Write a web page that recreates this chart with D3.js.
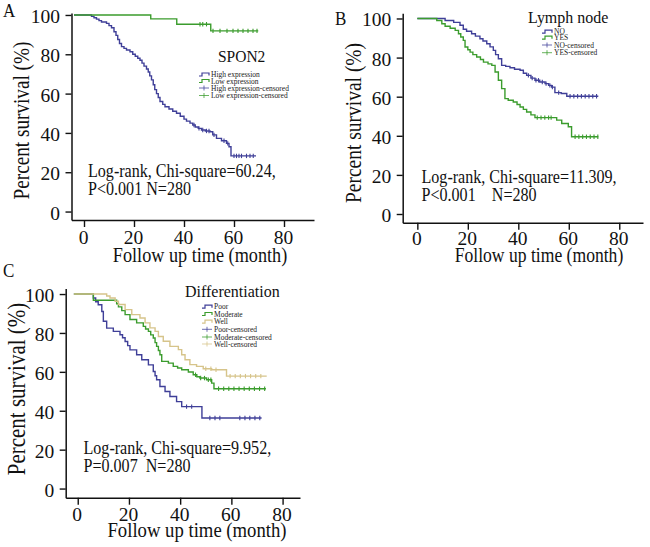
<!DOCTYPE html>
<html><head><meta charset="utf-8">
<script src="https://cdn.jsdelivr.net/npm/d3@7/dist/d3.min.js"></script>
<style>body{margin:0;background:#fff}svg{display:block}</style>
</head><body>
<svg id="chart" width="650" height="547"></svg>
<script>
// ---------- DATA ----------
const xTicks = [0, 20, 40, 60, 80];
const yTicks = [0, 20, 40, 60, 80, 100];

// Panel A: SPON2
const spon2High = [[-4,100],[3,99.3],[4,98.6],[5,97.9],[6,97.1],[7,96.4],[9,95.7],[10,94.6],[11,93.5],[12,91.5],[12.8,89.6],[13.5,87.5],[14.2,85.5],[15,83.9],[16,83],[17,82.2],[18.4,81.3],[19.5,80],[20.5,79],[21.5,78],[22.4,77],[23.2,75.5],[24,74],[25,72.5],[25.7,71],[26.3,69],[27,67],[27.7,64.5],[28.3,62],[29,60],[29.7,58],[30.4,56],[31.5,54.5],[32.4,53.3],[34,52.2],[35.5,51],[37,50],[38.5,48.5],[40,47],[41,46],[42.4,45],[43.5,44],[44.5,43],[45.7,42.3],[47,41.5],[48.5,41],[50.4,40.6],[51.5,39],[53,37.2],[55,36],[57,34.7],[58,33],[58.8,28.3],[68.8,28.3]];
const spon2HighCensor = [44,46,47.5,49,50,52,56,57.5,60,61,62,63,65,66.4,67.7];
const spon2Low = [[-4,100],[26.7,98],[37.1,95.3],[50.7,91.9],[69.7,91.9]];
const spon2LowCensor = [46.4,47.5,49,51.6,54.4,57.2,59.6,61.6,63.6,65.6,67.6,69.2];

// Panel B: Lymph node
const lymphNo = [[0,100],[11,99],[14.4,98],[16.9,96.5],[18.2,94.5],[19.5,93.5],[21.5,92.2],[23,91],[24.8,89.6],[26,88.5],[27.5,87.1],[28.8,85.5],[30.1,83.7],[31,81.5],[32.1,79.4],[33.4,76],[35,75.5],[36.7,74.8],[38.5,74],[40.7,73.5],[42,72],[43.3,70.9],[45,69.5],[46.6,68.4],[48.5,67.5],[50.6,66.7],[52,65.8],[53.2,64.9],[54.5,62.1],[57,61.6],[59.2,60.2],[71.7,60.2]];
const lymphNoCensor = [44,45.5,47,48,49.5,51,52.5,53.5,56,60.5,62,63.5,65,66.5,68,69.5,71];
const lymphYes = [[0,100],[7.7,99],[9.7,97.3],[11,96],[13,95],[15,93.9],[16.3,92.2],[17.2,90.5],[18.2,88.8],[18.9,85.4],[20,84],[20.9,82.8],[22,81.5],[23.5,80.3],[25,79],[26.2,77.7],[28,76.8],[29.5,76],[30.8,72.6],[32.1,68.4],[33.4,64.1],[34.7,59],[36,58.2],[38,57.3],[39.5,56],[40.7,54.7],[42,53.5],[43.3,52.2],[45,50.7],[46.6,49.3],[55.2,48],[57.2,46.3],[59.8,44.6],[61.1,39.5],[71.7,39.5]];
const lymphYesCensor = [47.5,49,50.5,52,53,62.5,64,65.5,67,68.5,70,71.5];

// Panel C: Differentiation
const diffPoor = [[-1.5,100],[6.1,98],[7,96],[8,94.5],[9.4,91],[10,86],[11.3,82.5],[13.9,80.8],[16.5,79.1],[17.5,77.5],[18.5,75.6],[19.5,73.5],[20.4,71.3],[23,68.8],[25,66.2],[27.6,63.6],[29.5,60.2],[30.2,58],[30.8,55.9],[32.1,52.5],[34.1,49.9],[36,47.3],[38.6,44.7],[40.6,42.1],[48.5,36.3],[71.8,36.3]];
const diffPoorCensor = [42.5,44.5,51.6,53.6,55.5,63.3,65.3,67.2,69.2,71.1];
const diffModerate = [[-1.5,100],[6.1,96.8],[15.2,95],[15.9,93.4],[17.2,91.5],[18.5,89.4],[20.4,86.9],[23,85.2],[25.6,83.4],[26.5,82],[27.6,80.8],[28.5,79],[29.5,77.4],[30.2,75],[30.8,73.1],[31.5,71],[32.1,68.8],[32.8,65.4],[35.4,64.5],[37.3,62.8],[39,62],[40.6,61.1],[43.2,59.9],[45.1,58.5],[46.5,57.5],[47.7,56.8],[50.3,55.9],[52.3,54.2],[53.2,51.3],[73.5,51.3]];
const diffModerateCensor = [46,48,49.5,51,52,55,57,59,61,63,65,67,69,71,73];
const diffWell = [[-1.5,100],[11.3,99],[12.6,98],[14.6,96.3],[15.9,94.6],[18.5,92],[21.1,89.4],[24.3,87.7],[26.3,85.2],[28.2,82.6],[30.2,80.8],[31.5,78.2],[33.4,75.7],[36,73.1],[39.3,71.4],[40.6,68.8],[41.9,66.2],[43.8,63.7],[46.4,62.8],[49,61.6],[52.3,61.1],[58.1,57.8],[73.8,57.8]];
const diffWellCensor = [50,52,54,59.5,61.5,63.5,65.5,67.5,69.5,71.5];

const legendA = ["High expression","Low expression","High expression-censored","Low expression-censored"];
const legendB = ["NO","YES","NO-censored","YES-censored"];
const legendC = ["Poor","Moderate","Well","Poor-censored","Moderate-censored","Well-censored"];

// ---------- STYLE / LAYOUT ----------
const BLUE = "#3f3f98", GREEN = "#3b9c2d", TAN = "#d6c48a";
const FONT = "'Liberation Serif','Times New Roman',serif";
const svg = d3.select("#chart");

const panels = [
  { label:"A", labelPos:[3,17], xd:[-5,92], xr:[71.5,314], yd:[-4.3,101], yr:[220,13],
    series:[{d:spon2High,c:spon2HighCensor,col:BLUE},{d:spon2Low,c:spon2LowCensor,col:GREEN}],
    title:"SPON2", titlePos:[218,62], titleSize:15.5,
    legend:legendA, legCols:[BLUE,GREEN,BLUE,GREEN], legX:199, legYs:[74.5,81,88,95.5],
    ann:["Log-rank, Chi-square=60.24,","P<0.001 N=280"], annPos:[88,177,195],
    ytPos:[29,120.5], ytSize:19.2, xtPos:[200,262], xtSize:18.2, xLabDy:23.5 },
  { label:"B", labelPos:[335,25], xd:[-5.8,89.4], xr:[402.7,643], yd:[-4.45,102.7], yr:[222.7,13.2],
    series:[{d:lymphNo,c:lymphNoCensor,col:BLUE},{d:lymphYes,c:lymphYesCensor,col:GREEN}],
    title:"Lymph node", titlePos:[528,23], titleSize:16,
    legend:legendB, legCols:[BLUE,GREEN,BLUE,GREEN], legX:542, legYs:[31.7,37.7,45,52.7],
    ann:["Log-rank, Chi-square=11.309,","P<0.001\u00a0\u00a0\u00a0\u00a0N=280"], annPos:[421.5,183,200.5],
    ytPos:[361,123], ytSize:19.5, xtPos:[539,261.5], xtSize:17.6, xLabDy:22.5 },
  { label:"C", labelPos:[3,277], xd:[-4.7,86.8], xr:[65.7,300], yd:[-4.7,102.9], yr:[497.7,288.4],
    series:[{d:diffPoor,c:diffPoorCensor,col:BLUE},{d:diffModerate,c:diffModerateCensor,col:GREEN},{d:diffWell,c:diffWellCensor,col:TAN}],
    title:"Differentiation", titlePos:[185,297], titleSize:16,
    legend:legendC, legCols:[BLUE,GREEN,TAN,BLUE,GREEN,TAN], legX:202, legYs:[306.7,314,321.7,329.3,337,344],
    ann:["Log-rank, Chi-square=9.952,","P=0.007\u00a0\u00a0N=280"], annPos:[83.5,454,472],
    ytPos:[25,389], ytSize:21, xtPos:[197,537], xtSize:18.7, xLabDy:23.5 }
];

function stext(g, x, y, str, size, opts={}) {
  const sy = opts.sy || 1.15;
  return g.append("text")
    .attr("transform", `translate(${x},${y})${opts.rot?" rotate(-90)":""} scale(1,${sy})`)
    .attr("font-family", FONT).attr("font-size", size)
    .attr("fill", opts.fill || "#111")
    .attr("text-anchor", opts.anchor || "start")
    .text(str);
}

function stepValue(data, t) {
  let v = data[0][1];
  for (const p of data) { if (p[0] <= t) v = p[1]; else break; }
  return v;
}

panels.forEach(p => {
  const g = svg.append("g");
  const x = d3.scaleLinear().domain(p.xd).range(p.xr);
  const y = d3.scaleLinear().domain(p.yd).range(p.yr);
  const x0 = p.xr[0], y0 = p.yr[0];

  // curves
  const line = d3.line().x(d => x(d[0])).y(d => y(d[1])).curve(d3.curveStepAfter);
  p.series.forEach(s => {
    g.append("path").datum(s.d).attr("d", line)
      .attr("fill","none").attr("stroke", s.col).attr("stroke-width",1.4);
    g.selectAll(null).data(s.c).enter().append("line")
      .attr("x1", t => x(t)).attr("x2", t => x(t))
      .attr("y1", t => y(stepValue(s.d, t)) - 2.2)
      .attr("y2", t => y(stepValue(s.d, t)) + 2.2)
      .attr("stroke", s.col).attr("stroke-width",1.1);
  });

  // axes
  const ax = g.append("g").attr("transform",`translate(0,${y0})`)
    .call(d3.axisBottom(x).tickValues(xTicks).tickSize(7).tickSizeOuter(0).tickFormat(d3.format("d")));
  const ay = g.append("g").attr("transform",`translate(${x0},0)`)
    .call(d3.axisLeft(y).tickValues(yTicks).tickSize(6).tickSizeOuter(0).tickFormat(d3.format("d")));
  [ax, ay].forEach(a => {
    a.select(".domain").attr("stroke","#111").attr("stroke-width",1.5);
    a.selectAll(".tick line").attr("stroke","#111").attr("stroke-width",1.4);
    a.selectAll(".tick text").attr("font-family",FONT).attr("font-size",19.5).attr("fill","#111")
      .attr("x",null).attr("y",null).attr("dy",null);
  });
  ax.selectAll(".tick text").attr("text-anchor","middle").attr("transform",`translate(-1,${p.xLabDy})`);
  ay.selectAll(".tick text").attr("text-anchor","end").attr("transform","translate(-11.5,7.5)");

  // axis titles
  stext(g, p.ytPos[0], p.ytPos[1], "Percent survival (%)", p.ytSize, {rot:true, anchor:"middle"});
  stext(g, p.xtPos[0], p.xtPos[1], "Follow up time (month)", p.xtSize, {anchor:"middle"});

  // panel label
  stext(g, p.labelPos[0], p.labelPos[1], p.label, 17, {sy:1.05});

  // legend title
  stext(g, p.titlePos[0], p.titlePos[1], p.title, p.titleSize, {sy:1.1});

  // legend entries
  const n = p.legend.length, half = n / 2;
  p.legend.forEach((lab, i) => {
    const yy = p.legYs[i], col = p.legCols[i], lx = p.legX;
    if (i < half) {
      g.append("path")
        .attr("d", `M${lx},${yy+1.5}H${lx+3}V${yy-1.5}H${lx+10}V${yy+1}`)
        .attr("fill","none").attr("stroke",col).attr("stroke-width",1.2);
    } else {
      g.append("path")
        .attr("d", `M${lx},${yy}H${lx+10}M${lx+5},${yy-2.5}V${yy+2.5}`)
        .attr("fill","none").attr("stroke",col).attr("stroke-width",0.9).attr("opacity",0.85);
    }
    stext(g, lx + 12, yy + 2.5, lab, 7.5, {sy:1.05, fill:"#222"});
  });

  // annotation
  stext(g, p.annPos[0], p.annPos[1], p.ann[0], 16.1);
  stext(g, p.annPos[0], p.annPos[2], p.ann[1], 16.1);
});
</script>
</body></html>
